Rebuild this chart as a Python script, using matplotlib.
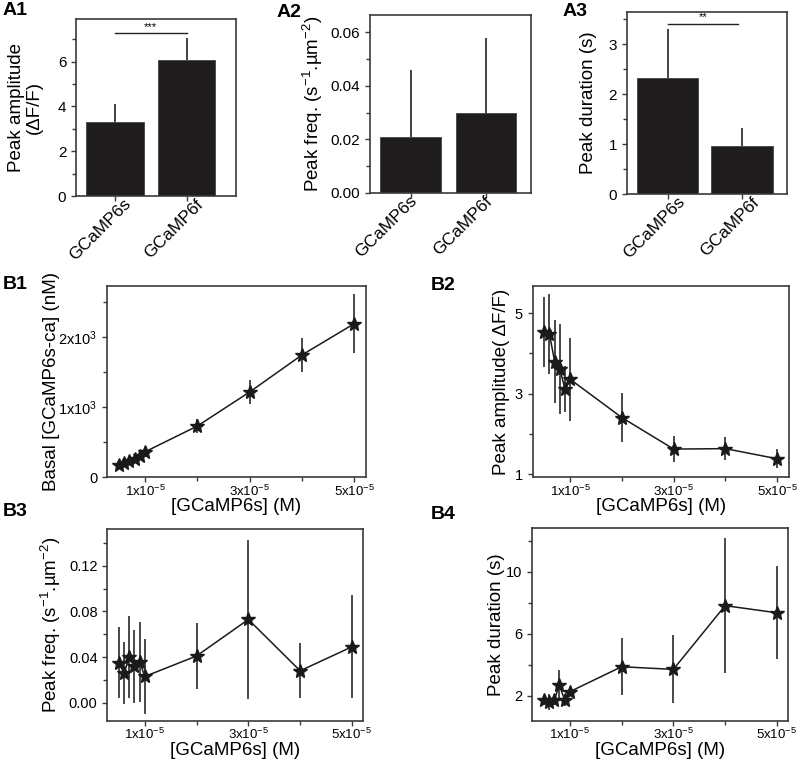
import matplotlib
matplotlib.use("Agg")
import matplotlib.pyplot as plt
import matplotlib.transforms as mtransforms
from matplotlib.ticker import FixedLocator

plt.rcParams['font.family'] = ['Liberation Sans', 'DejaVu Sans']
plt.rcParams['mathtext.fontset'] = 'custom'
plt.rcParams['mathtext.rm'] = 'Liberation Sans'
plt.rcParams['mathtext.it'] = 'Liberation Sans:italic'
plt.rcParams['mathtext.default'] = 'regular'

# ---------------- data ----------------
groups = ['GCaMP6s', 'GCaMP6f']
a1_amp = [3.32, 6.08]
a1_err = [0.79, 0.99]
a2_freq = [0.021, 0.030]
a2_err = [0.025, 0.028]
a3_dur = [2.32, 0.97]
a3_err = [0.98, 0.35]
a1_sig = '***'
a3_sig = '**'

conc = [5e-6, 6e-6, 7e-6, 8e-6, 9e-6, 1e-5, 2e-5, 3e-5, 4e-5, 5e-5]
basal = [180, 205, 235, 265, 305, 365, 733, 1219, 1748, 2195]
basal_err = [25, 25, 30, 30, 35, 40, 100, 170, 240, 420]
amp = [4.54, 4.48, 3.80, 3.62, 3.12, 3.36, 2.41, 1.63, 1.64, 1.39]
amp_err = [0.87, 1.00, 1.02, 1.12, 0.56, 1.03, 0.60, 0.33, 0.28, 0.24]
freq = [0.035, 0.026, 0.040, 0.032, 0.036, 0.023, 0.041, 0.073, 0.028, 0.049]
freq_err = [0.031, 0.027, 0.036, 0.032, 0.035, 0.033, 0.029, 0.070, 0.024, 0.045]
dur = [1.72, 1.61, 1.72, 2.69, 1.72, 2.26, 3.87, 3.70, 7.81, 7.35]
dur_err = [0.30, 0.50, 0.30, 1.00, 0.40, 0.30, 1.83, 2.20, 4.35, 3.00]

x_major = [1e-5, 3e-5, 5e-5]
x_minor = [2e-5, 4e-5]
x_labels = ['1x10$^{-5}$', '3x10$^{-5}$', '5x10$^{-5}$']
b1_yticks = [0, 1000, 2000]
b1_ylabels = ['0', '1x10$^{3}$', '2x10$^{3}$']
# --------------------------------------

W, H = 800, 763
fig = plt.figure(figsize=(W / 100, H / 100), dpi=100)

def px_axes(x0, y0, x1, y1):
    return fig.add_axes([x0 / W, 1 - y1 / H, (x1 - x0) / W, (y1 - y0) / H])

BAR = '#1f1c1d'
SP = '#3a3a3a'

def style(ax, tfs=10.5):
    for s in ax.spines.values():
        s.set_color(SP)
        s.set_linewidth(1.2)
    ax.tick_params(which='both', direction='out', top=False, right=False,
                   color=SP, labelsize=tfs, width=1.0)
    ax.tick_params(which='major', length=3.5)
    ax.tick_params(which='minor', length=3.0)

def bar_panel(ax, vals, errs, width, xlim, ylim, yt, ytl, ymin, ylabel, labx, xoff, yoff):
    style(ax, 11)
    xs = list(range(len(groups)))
    ax.bar(xs, vals, width=width, color=BAR, edgecolor='#444444', linewidth=0.6, zorder=2)
    ax.errorbar(xs, vals, yerr=[[0] * len(errs), errs], fmt='none', ecolor='#222222',
                elinewidth=1.2, capsize=0, zorder=1)
    ax.set_xlim(*xlim)
    ax.set_ylim(*ylim)
    ax.set_yticks(yt)
    ax.set_yticklabels(ytl)
    ax.yaxis.set_minor_locator(FixedLocator(ymin))
    ax.set_xticks(xs)
    ax.set_xticklabels(groups, rotation=45, ha='right', va='center',
                       rotation_mode='anchor', fontsize=12.5)
    off = mtransforms.ScaledTranslation(xoff / 100, yoff / 100, fig.dpi_scale_trans)
    for t in ax.get_xticklabels():
        t.set_transform(t.get_transform() + off)
    ax.set_ylabel(ylabel, fontsize=13.5, linespacing=1.05)
    ax.yaxis.set_label_coords(labx, 0.5)

# A1
ax = px_axes(76, 19, 236, 196)
bar_panel(ax, a1_amp, a1_err, 0.81, (-0.545, 1.692), (0, 7.9),
          [0, 2, 4, 6], ['0', '2', '4', '6'], [1, 3, 5, 7],
          'Peak amplitude\n(ΔF/F)', -0.21, 14, 4)
ax.plot([0, 1], [7.29, 7.29], color='#222222', lw=1.0)
ax.text(0.5, 7.33, a1_sig, ha='center', va='bottom', fontsize=8)

# A2
ax = px_axes(370, 15, 531, 193)
bar_panel(ax, a2_freq, a2_err, 0.8, (-0.539, 1.602), (0, 0.0664),
          [0, 0.02, 0.04, 0.06], ['0.00', '0.02', '0.04', '0.06'], [0.01, 0.03, 0.05],
          'Peak freq. (s$^{-1}$.µm$^{-2}$)', -0.28, 4, 4)

# A3
ax = px_axes(626.7, 11.7, 786.7, 194)
bar_panel(ax, a3_dur, a3_err, 0.82, (-0.548, 1.6), (0, 3.65),
          [0, 1, 2, 3], ['0', '1', '2', '3'], [0.5, 1.5, 2.5, 3.5],
          'Peak duration (s)', -0.186, 15, 4)
ax.plot([0, 0.95], [3.41, 3.41], color='#222222', lw=1.0)
ax.text(0.475, 3.44, a3_sig, ha='center', va='bottom', fontsize=8)

def line_panel(ax, ys, errs, ylim, yt, ytl, ymin, ylabel, labx, xlaby):
    style(ax, 10.5)
    ax.tick_params(axis='x', labelsize=9.5, pad=1)
    ax.errorbar(conc, ys, yerr=errs, fmt='none', ecolor='#2a2a2a', elinewidth=1.2,
                capsize=0, zorder=1)
    ax.plot(conc, ys, color='#1a1a1a', lw=1.1, marker='*', markersize=10,
            markerfacecolor='#1a1a1a', markeredgecolor='#1a1a1a', zorder=3)
    ax.set_xlim(2.76e-6, 5.22e-5)
    ax.set_ylim(*ylim)
    ax.set_xticks(x_major)
    ax.set_xticklabels(x_labels)
    ax.xaxis.set_minor_locator(FixedLocator(x_minor))
    ax.set_yticks(yt)
    ax.set_yticklabels(ytl)
    ax.yaxis.set_minor_locator(FixedLocator(ymin))
    ax.set_xlabel('[GCaMP6s] (M)', fontsize=13.5)
    ax.xaxis.set_label_coords(0.5, xlaby)
    ax.set_ylabel(ylabel, fontsize=13.5)
    ax.yaxis.set_label_coords(labx, 0.5)

# B1
ax = px_axes(107.3, 285.7, 365.5, 477.3)
line_panel(ax, basal, basal_err, (0, 2740), b1_yticks, b1_ylabels, [500, 1500, 2500],
           'Basal [GCaMP6s-ca] (nM)', -0.183, -0.11)

# B2
ax = px_axes(532.7, 285.7, 788.5, 477.3)
line_panel(ax, amp, amp_err, (0.93, 5.68), [1, 3, 5], ['1', '3', '5'], [2, 4],
           'Peak amplitude( ΔF/F)', -0.089, -0.11)

# B3
ax = px_axes(107.3, 529.3, 363.3, 721)
line_panel(ax, freq, freq_err, (-0.016, 0.152), [0, 0.04, 0.08, 0.12],
           ['0.00', '0.04', '0.08', '0.12'], [0.02, 0.06, 0.10, 0.14],
           'Peak freq. (s$^{-1}$.µm$^{-2}$)', -0.173, -0.11)

# B4
ax = px_axes(532.3, 528.3, 788.3, 721)
line_panel(ax, dur, dur_err, (0.37, 12.8), [2, 6, 10], ['2', '6', '10'], [4, 8, 12],
           'Peak duration (s)', -0.105, -0.11)

# panel letters
letters = [('A1', 3, 2), ('A2', 277, 4), ('A3', 563, 3),
           ('B1', 3, 276), ('B2', 431, 277), ('B3', 3, 503), ('B4', 431, 506)]
for txt, x, y in letters:
    fig.text(x / W, 1 - y / H, txt, fontsize=14, fontweight='bold', ha='left', va='top')

fig.savefig('out.png', dpi=100)
